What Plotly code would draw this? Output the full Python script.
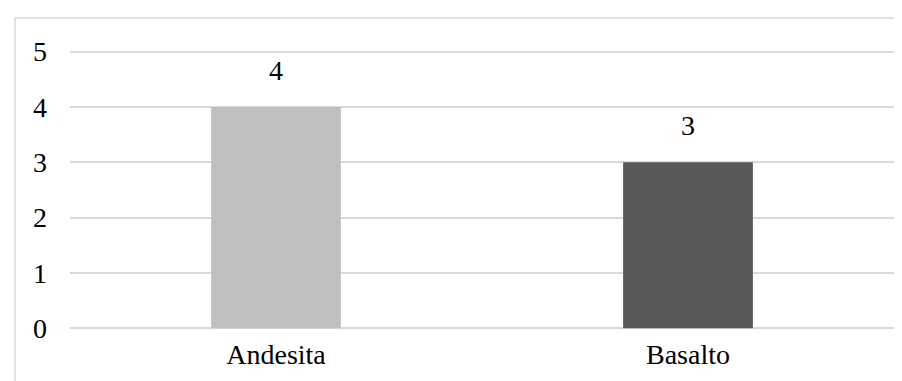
import plotly.graph_objects as go

categories = ["Andesita", "Basalto"]
values = [4, 3]
bar_colors = ["#bfbfbf", "#595959"]
y_ticks = [0, 1, 2, 3, 4, 5]

FONT = "Liberation Serif, Times New Roman, serif"
FS = 28

fig = go.Figure(
    go.Bar(
        x=categories,
        y=values,
        marker=dict(color=bar_colors, line=dict(width=0)),
        width=0.315,
    )
)

for c, v in zip(categories, values):
    fig.add_annotation(
        x=c, y=v, text=str(v), showarrow=False,
        yanchor="bottom", yshift=19,
        font=dict(family=FONT, size=FS, color="#000000"),
    )

fig.update_layout(
    width=902,
    height=381,
    margin=dict(l=62, r=16, t=42, b=59),
    paper_bgcolor="white",
    plot_bgcolor="white",
    showlegend=False,
    font=dict(family=FONT, size=FS, color="#000000"),
    xaxis=dict(
        showgrid=False,
        zeroline=False,
        showline=False,
        ticks="",
        tickfont=dict(family=FONT, size=FS),
        ticklabelstandoff=5,
    ),
    yaxis=dict(
        range=[-0.03, 5.03],
        tickvals=y_ticks,
        showgrid=True,
        gridcolor="#d9d9d9",
        gridwidth=1.5,
        zeroline=False,
        showline=False,
        ticks="",
        tickfont=dict(family=FONT, size=FS),
        ticklabelstandoff=22,
    ),
    shapes=[
        dict(
            type="rect",
            xref="paper",
            yref="paper",
            x0=(7 - 62) / 824,
            x1=1.2,
            y0=-0.3,
            y1=(322 - 10) / 280,
            line=dict(color="#d9d9d9", width=1.5),
            fillcolor="rgba(0,0,0,0)",
            layer="below",
        )
    ],
)

fig.write_html("out.html")
